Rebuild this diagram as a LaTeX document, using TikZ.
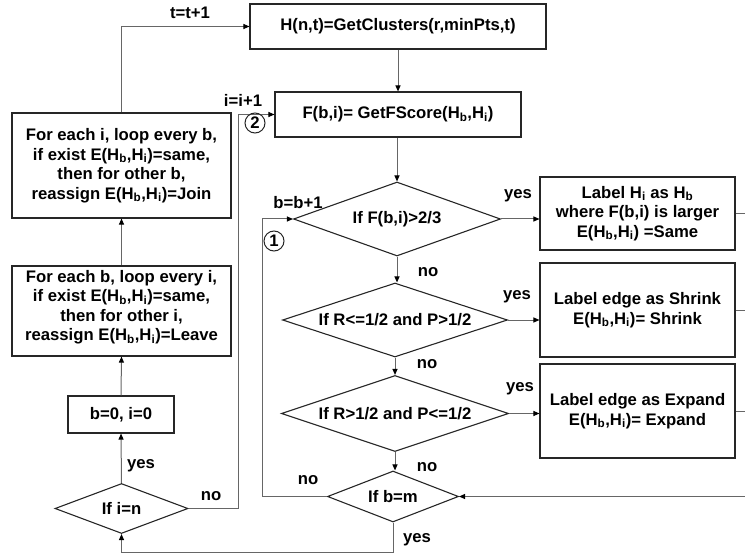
\documentclass[tikz,border=0pt]{standalone}
\usepackage{fontspec}
\setmainfont{Liberation Sans}
\usetikzlibrary{shapes.geometric,arrows.meta}
\newcommand{\chartfont}{\fontsize{16.7bp}{19.5bp}\selectfont\bfseries}
\newcommand{\lsub}[1]{\textsubscript{#1}}

\begin{document}
\begin{tikzpicture}[x=1bp,y=-1bp,
  every node/.style={font=\chartfont},
  procbox/.style={draw=black!85, line width=1.1bp, inner sep=0pt, align=center},
  decision/.style={diamond, draw=black!85, line width=1.1bp, inner sep=0pt, aspect=3, align=center},
  link/.style={draw=black!60, line width=1bp},
  arr/.style={link, -{Triangle[length=6bp,width=5bp,color=black]}},
  tag/.style={inner sep=0pt},
  marker/.style={circle, draw=black!85, line width=1bp, minimum size=20bp, inner sep=0pt}
]
\useasboundingbox (0,0) rectangle (745,554);

% main column
\node[procbox, minimum width=296bp, minimum height=45bp] (clus) at (398,26.5) {H(n,t)=GetClusters(r,minPts,t)};
\node[procbox, minimum width=246bp, minimum height=45bp] (fscore) at (398,114.5) {F(b,i)= GetFScore(H\lsub{b},H\lsub{i})};
\node[decision, minimum width=207bp, minimum height=74bp] (same) at (397,219) {If F(b,i)>2/3};
\node[decision, minimum width=225bp, minimum height=74bp] (shrink) at (395,320) {If R<=1/2 and P>1/2};
\node[decision, minimum width=227bp, minimum height=76bp] (expand) at (395,413.5) {If R>1/2 and P<=1/2};
\node[decision, minimum width=131bp, minimum height=51bp] (lastb) at (393,496.5) {If b=m};

% outcome boxes
\node[procbox, minimum width=195bp, minimum height=73bp] (lblsame) at (637.5,213.5) {Label H\lsub{i} as H\lsub{b}\\ where F(b,i) is larger\\ E(H\lsub{b},H\lsub{i}) =Same};
\node[procbox, minimum width=195bp, minimum height=94bp] (lblshrink) at (637.5,310) {Label edge as Shrink\\ E(H\lsub{b},H\lsub{i})= Shrink};
\node[procbox, minimum width=195bp, minimum height=94bp] (lblexpand) at (637.5,411) {Label edge as Expand\\ E(H\lsub{b},H\lsub{i})= Expand};

% left column
\node[procbox, minimum width=219bp, minimum height=105bp] (join) at (121.5,165.5) {For each i, loop every b,\\ if exist E(H\lsub{b},H\lsub{i})=same,\\ then for other b,\\ reassign E(H\lsub{b},H\lsub{i})=Join};
\node[procbox, minimum width=219bp, minimum height=90bp] (leave) at (121.5,311) {};
\node[tag, align=center] (leavetxt) at (121.5,307) {For each b, loop every i,\\ if exist E(H\lsub{b},H\lsub{i})=same,\\ then for other i,\\ reassign E(H\lsub{b},H\lsub{i})=Leave};
\node[procbox, minimum width=106bp, minimum height=37bp] (reset) at (121,414.5) {b=0, i=0};
\node[decision, minimum width=133bp, minimum height=50bp] (lasti) at (121.5,508.5) {If i=n};

% routing points
\coordinate (rim) at (745,0);
\coordinate (rimin) at (745,496.5);
\coordinate (loopx) at (262,0);
\coordinate (retx) at (238,0);
\coordinate (boty) at (0,552);

% connectors
\draw[arr] (clus.south) -- (fscore.north);
\draw[arr] (fscore.south -| same.north) -- (same.north);
\draw[arr] (same.south) -- (same.south |- shrink.north);
\draw[arr] (shrink.south) -- (expand.north);
\draw[arr] (expand.south) -- (expand.south |- lastb.north);
\draw[arr] (same.east) -- (same.east -| lblsame.west);
\draw[arr] (shrink.east) -- (shrink.east -| lblshrink.west);
\draw[arr] (expand.east) -- (expand.east -| lblexpand.west);
\draw[link] (lblsame.east) -- (lblsame.east -| rim);
\draw[link] (lblshrink.east) -- (lblshrink.east -| rim);
\draw[link] (lblexpand.east) -- (lblexpand.east -| rim);
\draw[arr] (rimin) -- (lastb.east);
\draw[arr] (lastb.west) -- (lastb.west -| loopx) |- (same.west);
\draw[arr] (lastb.south) -- (lastb.south |- boty) -| (lasti.south);
\draw[arr] (lasti.north) -- (reset.south);
\draw[arr] (reset.north) -- (leave.south);
\draw[arr] (leave.north) -- (join.south);
\draw[arr] (join.north) |- (clus.west);
\draw[arr] (lasti.east) -- (lasti.east -| retx) |- (fscore.west);

% branch labels
\node[tag] (yes1) at (518,196) {yes};
\node[tag] (yes2) at (517,297) {yes};
\node[tag] (yes3) at (520,389) {yes};
\node[tag] (no1) at (428,272) {no};
\node[tag] (no2) at (427,364) {no};
\node[tag] (no3) at (427,467) {no};
\node[tag] (no4) at (308,480) {no};
\node[tag] (yes4) at (417,540) {yes};
\node[tag] (yes5) at (141,466) {yes};
\node[tag] (no5) at (211,496) {no};
\node[tag] (tinc) at (190,13) {t=t+1};
\node[tag] (iinc) at (243,100) {i=i+1};
\node[tag] (binc) at (298,203) {b=b+1};
\node[marker] (m1) at (274,241) {1};
\node[marker] (m2) at (255,123) {2};
\end{tikzpicture}
\end{document}
